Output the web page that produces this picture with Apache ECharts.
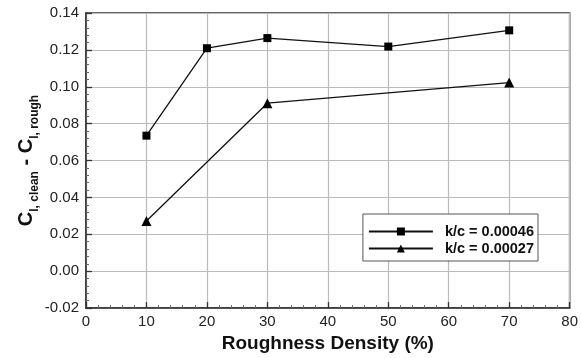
<!DOCTYPE html>
<html><head><meta charset="utf-8">
<script src="https://cdn.jsdelivr.net/npm/echarts@6/dist/echarts.min.js"></script>
<style>html,body{margin:0;padding:0;background:#fff}#c{width:581px;height:358px}</style>
</head><body><div id="c"></div>
<script>
const xTicks = [0,10,20,30,40,50,60,70,80];
const yTicks = [-0.02,0,0.02,0.04,0.06,0.08,0.10,0.12,0.14];
const densityA = [10,20,30,50,70];
const valuesA = [0.0735,0.1209,0.1264,0.1218,0.1306];
const densityB = [10,30,70];
const valuesB = [0.0272,0.0911,0.1023];
const seriesNames = ['k/c = 0.00046','k/c = 0.00027'];

const font = 'Liberation Sans, Arial, sans-serif';
const chart = echarts.init(document.getElementById('c'));
chart.setOption({
  animation:false,
  backgroundColor:'#fff',
  grid:{left:86,right:7,top:13,bottom:46.5,show:true,borderColor:'#333',borderWidth:1.5},
  legend:{
    right:43, top:214,
    orient:'vertical',
    backgroundColor:'#fff',
    borderColor:'#555', borderWidth:1,
    padding:[10,4,5,5],
    itemGap:2,
    itemWidth:64, itemHeight:10,
    textStyle:{fontFamily:font,fontSize:14.5,fontWeight:'bold',color:'#111',padding:[0,0,0,7]},
    data:seriesNames
  },
  xAxis:{
    type:'value', min:xTicks[0], max:xTicks[xTicks.length-1], interval:10,
    name:'Roughness Density (%)', nameLocation:'middle', nameGap:25,
    nameTextStyle:{fontFamily:font,fontSize:19,fontWeight:'bold',color:'#111'},
    axisLine:{show:true,onZero:false,lineStyle:{color:'#333',width:1.5}},
    axisTick:{show:true,inside:true,length:6,lineStyle:{color:'#333',width:1.3}},
    minorTick:{show:true,splitNumber:5,length:3,lineStyle:{color:'#666'}},
    axisLabel:{fontFamily:font,fontSize:15,color:'#222',margin:6,formatter:v=>String(v)},
    splitLine:{show:true,lineStyle:{color:'#bbb',width:1.2}}
  },
  yAxis:{
    type:'value', min:yTicks[0], max:yTicks[yTicks.length-1], interval:0.02,
    name:'{c|C}{s|l, clean}{c| - C}{s|l, rough}', nameLocation:'middle', nameGap:50, nameRotate:90,
    nameMoveOverlap:false,
    nameTextStyle:{fontFamily:font,fontWeight:'bold',color:'#111',
      rich:{
        c:{fontFamily:font,fontSize:20,fontWeight:'bold',color:'#111',lineHeight:24,verticalAlign:'bottom'},
        s:{fontFamily:font,fontSize:12,fontWeight:'bold',color:'#111',lineHeight:24,verticalAlign:'bottom',padding:[0,0,-5,0]}
      }},
    axisLine:{show:true,onZero:false,lineStyle:{color:'#333',width:1.5}},
    axisTick:{show:true,inside:true,length:6,lineStyle:{color:'#333',width:1.3}},
    minorTick:{show:true,splitNumber:5,length:3,lineStyle:{color:'#666'}},
    axisLabel:{fontFamily:font,fontSize:15,color:'#222',margin:7,formatter:v=>v.toFixed(2)},
    splitLine:{show:true,lineStyle:{color:'#bbb',width:1.2}}
  },
  series:[
    {name:seriesNames[0],type:'line',data:densityA.map((x,i)=>[x,valuesA[i]]),
     symbol:'rect',symbolSize:8,itemStyle:{color:'#000'},lineStyle:{color:'#111',width:1.3}},
    {name:seriesNames[1],type:'line',data:densityB.map((x,i)=>[x,valuesB[i]]),
     symbol:'triangle',symbolSize:10,itemStyle:{color:'#000'},lineStyle:{color:'#111',width:1.3}}
  ]
});
</script></body></html>
